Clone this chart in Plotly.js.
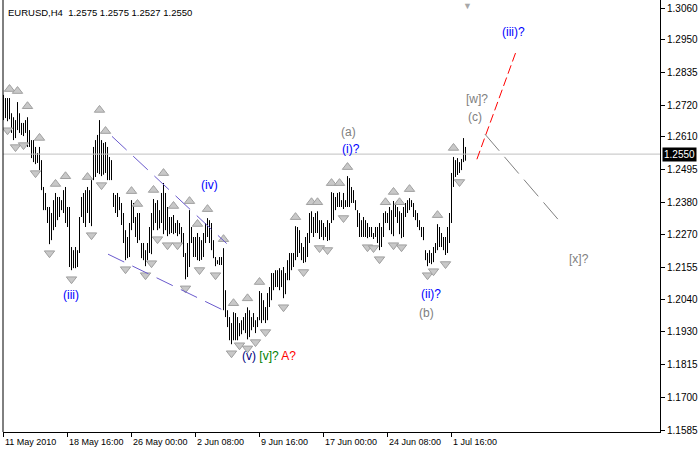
<!DOCTYPE html>
<html><head><meta charset="utf-8">
<script src="https://cdn.plot.ly/plotly-3.0.1.min.js"></script>
<style>html,body{margin:0;padding:0;background:#fff}#chart{width:700px;height:450px}</style>
</head><body><div id="chart"></div>
<script>
// ---- data (EURUSD H4 bar highs / lows) ----
const highs=[
1.2757,1.2746,1.2746,1.2746,1.2693,1.2679,1.2669,1.2732,1.2693,1.2659,
1.2659,1.2669,1.2679,1.2634,1.2599,1.2599,1.2575,1.2554,1.2575,1.2529,
1.2435,1.2414,1.2365,1.2365,1.2344,1.2389,1.2414,1.2400,1.2400,1.2389,
1.2424,1.2435,1.2365,1.2365,1.2225,1.2214,1.2225,1.2214,1.2330,1.2400,
1.2414,1.2424,1.2435,1.2424,1.2459,1.2575,1.2599,1.2617,1.2669,1.2599,
1.2589,1.2592,1.2575,1.2540,1.2529,1.2414,1.2407,1.2414,1.2400,1.2379,
1.2344,1.2284,1.2260,1.2309,1.2389,1.2379,1.2330,1.2344,1.2344,1.2239,
1.2239,1.2214,1.2239,1.2295,1.2344,1.2393,1.2379,1.2389,1.2354,1.2414,
1.2449,1.2414,1.2365,1.2330,1.2330,1.2337,1.2309,1.2319,1.2309,1.2295,
1.2274,1.2204,1.2239,1.2354,1.2295,1.2260,1.2260,1.2274,1.2260,1.2249,
1.2274,1.2309,1.2326,1.2319,1.2309,1.2249,1.2190,1.2179,1.2190,1.2190,
1.2221,1.2074,1.2004,1.1980,1.1959,1.1997,1.1994,1.1980,1.1959,1.1969,
1.1980,1.1994,1.2014,1.2004,1.1980,1.1994,1.1969,1.1980,1.2071,1.2064,
1.2039,1.2015,1.2064,1.2085,1.2134,1.2134,1.2144,1.2144,1.2151,1.2144,
1.2155,1.2134,1.2179,1.2204,1.2204,1.2204,1.2298,1.2295,1.2284,1.2239,
1.2225,1.2260,1.2274,1.2344,1.2350,1.2330,1.2344,1.2350,1.2319,1.2319,
1.2309,1.2295,1.2319,1.2309,1.2417,1.2414,1.2400,1.2414,1.2417,1.2389,
1.2414,1.2389,1.2473,1.2466,1.2435,1.2424,1.2389,1.2354,1.2344,1.2319,
1.2330,1.2319,1.2309,1.2295,1.2295,1.2274,1.2295,1.2295,1.2309,1.2295,
1.2344,1.2350,1.2344,1.2365,1.2354,1.2386,1.2379,1.2365,1.2350,1.2344,
1.2365,1.2379,1.2389,1.2396,1.2389,1.2379,1.2354,1.2344,1.2319,1.2295,
1.2295,1.2214,1.2204,1.2214,1.2204,1.2225,1.2239,1.2305,1.2295,1.2274,
1.2260,1.2260,1.2295,1.2344,1.2484,1.2540,1.2529,1.2536,1.2522,1.2533,
1.2606,1.2575];
const lows=[
1.2669,1.2676,1.2665,1.2672,1.2624,1.2599,1.2606,1.2634,1.2624,1.2617,
1.2613,1.2624,1.2575,1.2575,1.2536,1.2522,1.2515,1.2519,1.2494,1.2424,
1.2354,1.2354,1.2309,1.2235,1.2249,1.2284,1.2295,1.2319,1.2330,1.2354,
1.2344,1.2309,1.2295,1.2155,1.2144,1.2151,1.2151,1.2155,1.2204,1.2330,
1.2309,1.2295,1.2344,1.2309,1.2298,1.2459,1.2470,1.2484,1.2480,1.2473,
1.2478,1.2484,1.2459,1.2459,1.2459,1.2365,1.2344,1.2330,1.2354,1.2302,
1.2239,1.2179,1.2186,1.2190,1.2284,1.2309,1.2260,1.2239,1.2249,1.2186,
1.2179,1.2158,1.2179,1.2204,1.2200,1.2284,1.2309,1.2284,1.2290,1.2309,
1.2270,1.2284,1.2263,1.2270,1.2274,1.2270,1.2274,1.2263,1.2270,1.2239,
1.2190,1.2112,1.2120,1.2155,1.2239,1.2190,1.2190,1.2179,1.2176,1.2180,
1.2190,1.2239,1.2260,1.2239,1.2214,1.2186,1.2158,1.2165,1.2162,1.2162,
1.2004,1.1980,1.1945,1.1899,1.1885,1.1899,1.1899,1.1899,1.1913,1.1920,
1.1934,1.1924,1.1902,1.1910,1.1934,1.1945,1.1924,1.1945,1.1969,1.1959,
1.1969,1.1959,1.1969,1.2015,1.2039,1.2074,1.2085,1.2085,1.2074,1.2085,
1.2046,1.2060,1.2109,1.2109,1.2144,1.2155,1.2179,1.2190,1.2204,1.2179,
1.2169,1.2172,1.2190,1.2239,1.2274,1.2260,1.2274,1.2274,1.2253,1.2260,
1.2249,1.2260,1.2246,1.2249,1.2309,1.2319,1.2354,1.2365,1.2365,1.2365,
1.2358,1.2365,1.2365,1.2365,1.2379,1.2379,1.2354,1.2295,1.2260,1.2260,
1.2260,1.2260,1.2256,1.2260,1.2260,1.2253,1.2260,1.2239,1.2214,1.2225,
1.2260,1.2309,1.2309,1.2284,1.2270,1.2263,1.2330,1.2309,1.2270,1.2256,
1.2260,1.2330,1.2344,1.2354,1.2365,1.2330,1.2319,1.2295,1.2284,1.2260,
1.2249,1.2179,1.2158,1.2169,1.2165,1.2172,1.2204,1.2214,1.2225,1.2225,
1.2214,1.2197,1.2204,1.2239,1.2309,1.2435,1.2470,1.2477,1.2484,1.2494,
1.2522,1.2527];
const lastBar=[1.2575,1.2575,1.2527,1.2550]; // O H L C
const symbolName="EURUSD,H4";
// Bill Williams fractals: bar index and price level
const fracUpBar=[3,7,12,18,26,31,42,48,51,64,67,75,80,85,93,97,102,110,115,122,128,146,154,157,164,168,172,191,195,198,203,217,225];
const fracUpPrice=[1.2746,1.2739,1.2686,1.2575,1.2414,1.2441,1.2438,1.2673,1.2599,1.2389,1.2344,1.2393,1.2452,1.2337,1.2354,1.2274,1.2326,1.2221,1.1997,1.2014,1.2071,1.2298,1.2350,1.2350,1.2417,1.2417,1.2473,1.2350,1.2386,1.2350,1.2396,1.2305,1.2540];
const fracDnBar=[2,6,10,16,23,34,44,49,61,71,74,77,82,87,91,98,106,114,118,122,126,131,140,150,158,162,170,182,185,188,195,199,212,215,221,228];
const fracDnPrice=[1.2665,1.2606,1.2613,1.2515,1.2235,1.2144,1.2298,1.2473,1.2179,1.2158,1.2200,1.2284,1.2263,1.2263,1.2112,1.2176,1.2158,1.1885,1.1913,1.1902,1.1924,1.1959,1.2046,1.2169,1.2253,1.2246,1.2358,1.2256,1.2253,1.2214,1.2263,1.2256,1.2158,1.2172,1.2197,1.2484];
const timeTickBars=[0,32,64,96,128,160,192,224];
const timeTickLabels=["11 May 2010","18 May 16:00","26 May 00:00","2 Jun 08:00","9 Jun 16:00","17 Jun 00:00","24 Jun 08:00","1 Jul 16:00"];
const priceTicks=[1.3060,1.2950,1.2835,1.2720,1.2610,1.2495,1.2380,1.2270,1.2155,1.2040,1.1930,1.1815,1.1700,1.1585];
// wave labels: text, bar index, price
const waveText=["(iii)","(iv)","(a)","(i)?","(ii)?","(b)","[w]?","(c)","(iii)?","[x]?"];
const waveBar=[33.5,102.75,172.4,173.75,213.5,211.5,236.5,235.5,254.75,287.5];
const wavePrice=[1.2058,1.2442,1.2629,1.2568,1.2060,1.1995,1.2743,1.2680,1.2977,1.2183];
const waveColor=["#0000ff","#0000ff","#808080","#0000ff","#0000ff","#808080","#808080","#808080","#0000ff","#808080"];
// trend lines: [bar0, price0, bar1, price1]
const upperChannel=[54.25,1.2612,111.6,1.2237];
const lowerChannel=[52.25,1.2200,109.9,1.2004];
const redTarget=[236.7,1.2532,256.2,1.2907];
const greyTarget=[240.7,1.2620,279.7,1.2302];

// ---- build ----
const FONT="Liberation Sans, Arial, sans-serif";
const bx=[],by=[];
for(let i=0;i<highs.length;i++){bx.push(i,i,null);by.push(highs[i],lows[i],null);}
const pxPrice=(1.3089-1.1578)/432;       // price per pixel on this axis
const fracOff=9*pxPrice;                 // fractal glyph sits ~9px away from the bar
const traces=[
 {type:'scatter',mode:'lines',x:bx,y:by,line:{color:'#000',width:1},hoverinfo:'skip',connectgaps:false},
 {type:'scatter',mode:'markers',x:fracUpBar,y:fracUpPrice.map(v=>v+fracOff),
   marker:{symbol:'triangle-up',size:9,color:'#c8c8c8',line:{color:'#a0a0a0',width:1}},hoverinfo:'skip'},
 {type:'scatter',mode:'markers',x:fracDnBar,y:fracDnPrice.map(v=>v-fracOff),
   marker:{symbol:'triangle-down',size:9,color:'#c8c8c8',line:{color:'#a0a0a0',width:1}},hoverinfo:'skip'}
];
function seg(a,color,dash){return {type:'line',xref:'x',yref:'y',x0:a[0],y0:a[1],x1:a[2],y1:a[3],line:{color:color,width:1,dash:dash}};}
const shapes=[
 {type:'line',xref:'paper',yref:'y',x0:0,x1:1,y0:lastBar[3],y1:lastBar[3],line:{color:'#c0c0c0',width:1}},
 {type:'line',xref:'paper',yref:'paper',x0:0,x1:0,y0:0,y1:1,line:{color:'#000',width:1}},
 seg(upperChannel,'#6a5acd','20px,9px'),
 seg(lowerChannel,'#6a5acd','18px,9px'),
 seg(redTarget,'#ff0000','9px,4px'),
 seg(greyTarget,'#808080','22px,8px')
];
const ann=[];
ann.push({xref:'paper',yref:'paper',x:0,y:1,xanchor:'left',yanchor:'top',xshift:3,yshift:-5,showarrow:false,
  text:symbolName+'  '+lastBar.map(v=>v.toFixed(4)).join(' '),font:{family:FONT,size:9.5,color:'#000'}});
timeTickBars.forEach((b,k)=>ann.push({xref:'x',yref:'paper',x:b,y:0,xanchor:'left',yanchor:'top',xshift:-1,yshift:-3,showarrow:false,
  text:timeTickLabels[k],font:{family:FONT,size:9,color:'#000'}}));
waveText.forEach((t,k)=>ann.push({xref:'x',yref:'y',x:waveBar[k],y:wavePrice[k],showarrow:false,text:t,font:{family:FONT,size:12,color:waveColor[k]}}));
ann.push({xref:'x',yref:'y',x:132.5,y:1.1845,showarrow:false,
  text:'<span style="color:#000080">(v)</span> <span style="color:#008000">[v]?</span> <span style="color:#ff0000">A?</span>',
  font:{family:FONT,size:12,color:'#000080'}});
ann.push({xref:'paper',yref:'y',x:1,y:lastBar[3],xanchor:'left',xshift:2,showarrow:false,text:lastBar[3].toFixed(4),
  bgcolor:'#000',borderpad:1,font:{family:FONT,size:10,color:'#fff'}});
ann.push({xref:'x',yref:'paper',x:231.75,y:1,yanchor:'top',yshift:3,showarrow:false,text:'▼',font:{size:9,color:'#a8a8a8'}});

const layout={
 width:700,height:450,margin:{l:3,r:40,t:0,b:18},paper_bgcolor:'#fff',plot_bgcolor:'#fff',showlegend:false,
 xaxis:{range:[-0.25,328.25],tickvals:timeTickBars,showticklabels:false,ticks:'outside',ticklen:4,tickcolor:'#000',
   showline:true,linecolor:'#000',linewidth:1,showgrid:false,zeroline:false,fixedrange:true},
 yaxis:{range:[1.1578,1.3089],side:'right',tickvals:priceTicks,ticktext:priceTicks.map(v=>v.toFixed(4)),ticks:'outside',ticklen:4,tickcolor:'#000',
   showline:true,linecolor:'#000',linewidth:1,showgrid:false,zeroline:false,fixedrange:true,
   tickfont:{family:FONT,size:10,color:'#000'}},
 shapes:shapes,annotations:ann
};
Plotly.newPlot('chart',traces,layout,{staticPlot:true,displayModeBar:false});
</script></body></html>
